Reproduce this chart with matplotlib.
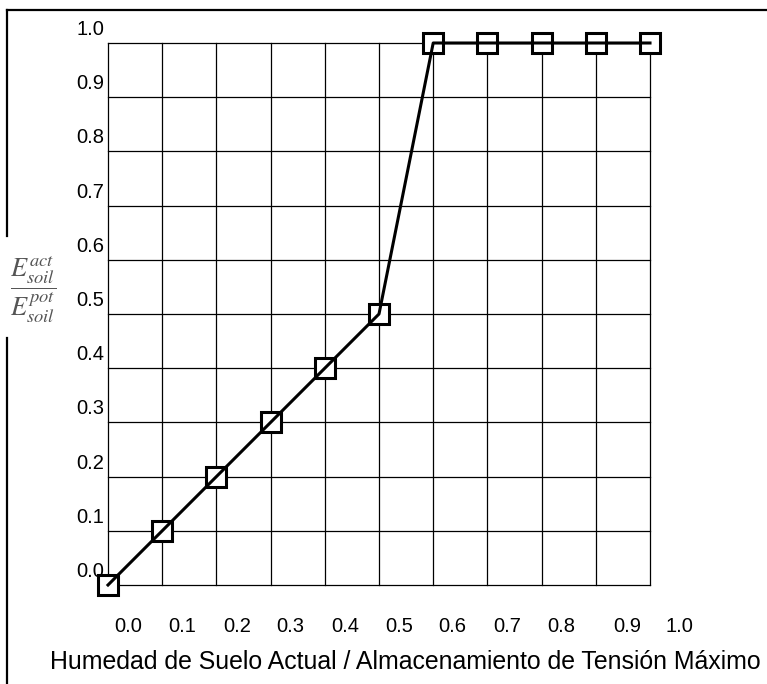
import matplotlib
matplotlib.use("Agg")
import matplotlib.pyplot as plt
from matplotlib.lines import Line2D
from matplotlib.transforms import offset_copy

plt.rcParams["font.family"] = ["Liberation Sans", "DejaVu Sans"]
plt.rcParams["mathtext.fontset"] = "stix"

# data: relative soil moisture vs. evaporation ratio
moisture = [0.0, 0.1, 0.2, 0.3, 0.4, 0.5, 0.6, 0.7, 0.8, 0.9, 1.0]
ratio = [0.0, 0.1, 0.2, 0.3, 0.4, 0.5, 1.0, 1.0, 1.0, 1.0, 1.0]

grid_values = [0.0, 0.1, 0.2, 0.3, 0.4, 0.5, 0.6, 0.7, 0.8, 0.9, 1.0]
tick_labels = ["0.0", "0.1", "0.2", "0.3", "0.4", "0.5", "0.6", "0.7", "0.8", "0.9", "1.0"]
# where the x labels sit (they are shifted right of the grid lines in the original)
x_label_pos = [0.037, 0.136, 0.238, 0.336, 0.437, 0.537, 0.636, 0.736, 0.836, 0.958, 1.054]

x_title = "Humedad de Suelo Actual / Almacenamiento de Tensión Máximo"
y_title = r"$\dfrac{E_{soil}^{act}}{E_{soil}^{pot}}$"

fig = plt.figure(figsize=(7.67, 6.84), dpi=100)
ax = fig.add_axes([108 / 767, 99 / 684, 542 / 767, 542 / 684])

# grid
for v in grid_values:
    ax.axvline(v, color="black", lw=0.9, zorder=1, clip_on=False)
    ax.axhline(v, color="black", lw=0.9, zorder=1, clip_on=False)

ax.plot(moisture, ratio, linestyle="none", marker="s", markersize=15,
        markerfacecolor="white", markeredgecolor="black", markeredgewidth=2.2,
        zorder=3, clip_on=False)
ax.plot(moisture, ratio, color="black", lw=2.2, zorder=4, clip_on=False)

ax.set_xlim(0, 1)
ax.set_ylim(0, 1)
ax.set_xticks([])
ax.set_yticks([])
for s in ax.spines.values():
    s.set_visible(False)

# y tick labels just above their grid lines
ytr = offset_copy(ax.get_yaxis_transform(), fig=fig, x=-4, y=8, units="dots")
for v, lab in zip(grid_values, tick_labels):
    ax.text(0, v, lab, transform=ytr, ha="right", va="baseline", fontsize=14.5)

# x tick labels
xtr = offset_copy(ax.get_xaxis_transform(), fig=fig, x=0, y=-41, units="dots")
for p, lab in zip(x_label_pos, tick_labels):
    ax.text(p, 0, lab, transform=xtr, ha="center", va="center", fontsize=14.5)

fig.text(405 / 767, 1 - 662 / 684, x_title, ha="center", va="center", fontsize=17.9)
fig.text(33 / 767, 1 - 290 / 684, y_title, ha="center", va="center",
         fontsize=19, color="#555555")

# outer frame pieces (top and left, broken around the y title)
fig.add_artist(Line2D([7 / 767, 1], [1 - 10 / 684, 1 - 10 / 684], color="black", lw=1.6))
fig.add_artist(Line2D([7 / 767, 7 / 767], [1 - 10 / 684, 1 - 236 / 684], color="black", lw=1.6))
fig.add_artist(Line2D([7 / 767, 7 / 767], [1 - 338 / 684, 0], color="black", lw=1.6))

fig.savefig("out.png", dpi=100)
